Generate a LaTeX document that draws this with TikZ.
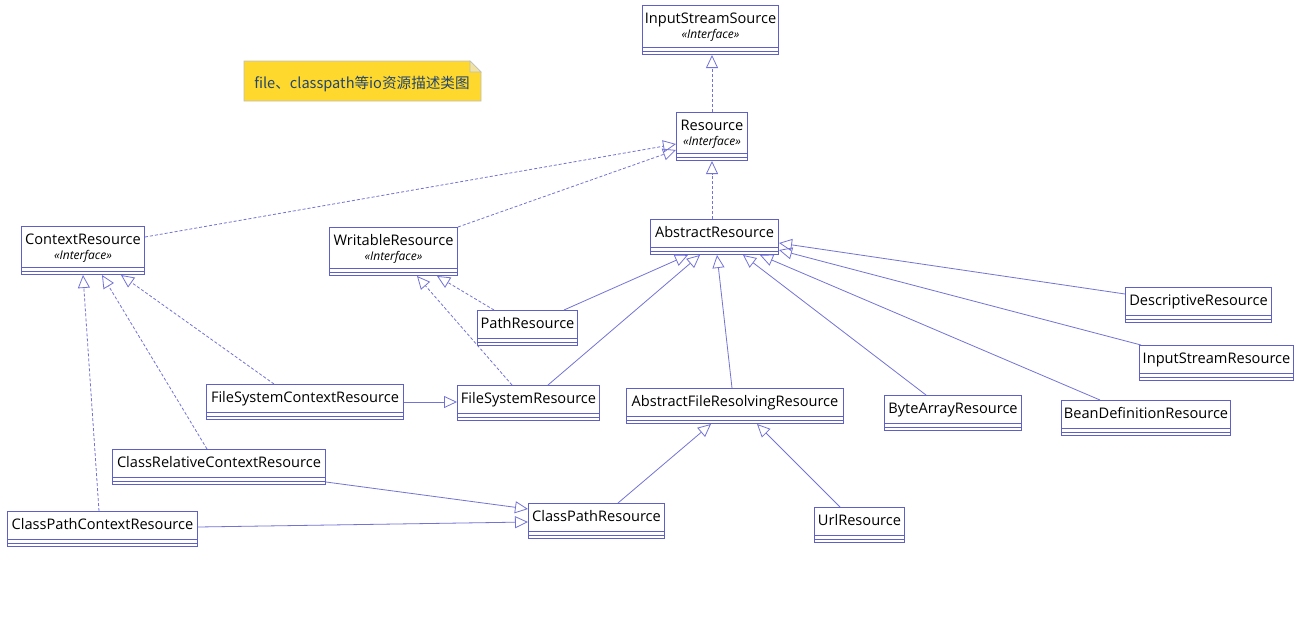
\documentclass[tikz,border=0pt]{standalone}
\usepackage{fontspec}
\setmainfont{Open Sans}
\newfontfamily\cjkfont{Noto Sans CJK SC}
\usetikzlibrary{arrows.meta,calc}
\definecolor{umlborder}{RGB}{95,95,200}
\definecolor{umlline}{RGB}{115,115,215}
\definecolor{notefill}{RGB}{255,216,46}
\definecolor{notefold}{RGB}{240,226,160}
\definecolor{noteborder}{RGB}{190,190,190}
\definecolor{notetext}{RGB}{35,70,110}
\tikzset{
  clsbox/.style={draw=umlborder, line width=1pt, fill=white, inner sep=0pt, rectangle},
  clsrule/.style={draw=umlborder, line width=1pt},
  clsname/.style={anchor=base, inner sep=0pt, font=\fontsize{14.6}{16}\selectfont},
  stereo/.style={anchor=base, inner sep=0pt, font=\fontsize{12}{13}\selectfont\itshape},
  realize/.style={draw=umlline, line width=0.8pt, dash pattern=on 3pt off 2pt, -{Triangle[open,length=13pt,width=12pt]}},
  inherit/.style={draw=umlline, line width=0.8pt, -{Triangle[open,length=13pt,width=12pt]}},
}
% #1 name, #2 x, #3 y, #4 w, #5 h, #6 text
\newcommand\umlclass[6]{%
  \node[clsbox, minimum width=#4pt, minimum height=#5pt, anchor=north west] (#1) at (#2,#3) {};
  \draw[clsrule] ([yshift=8pt]#1.south west) -- ([yshift=8pt]#1.south east);
  \draw[clsrule] ([yshift=4pt]#1.south west) -- ([yshift=4pt]#1.south east);
  \node[clsname] (#1-n) at ($(#1.north)+(0,18.5)$) {#6};
}
\newcommand\umliface[6]{%
  \umlclass{#1}{#2}{#3}{#4}{#5}{#6}%
  \node[stereo] (#1-s) at ($(#1.north)+(0,33)$) {«Interface»};
}
\begin{document}
\begin{tikzpicture}[x=1pt,y=-1pt]
\useasboundingbox (0,0) rectangle (1299,635);
\fill[white] (0,0) rectangle (1299,635);

% note
\filldraw[fill=notefill, draw=noteborder, line width=0.8pt]
  (244,61) -- (470,61) -- (481,72) -- (481,101) -- (244,101) -- cycle;
\filldraw[fill=notefold, draw=noteborder, line width=0.6pt] (470,61) -- (470,72) -- (481,72) -- cycle;
\node[anchor=base, inner sep=0pt, text=notetext, font=\cjkfont\fontsize{14.6}{17}\selectfont] (note) at (362,88) {file、classpath等io资源描述类图};

% classes
\umliface{iss}{642}{5}{136}{49}{InputStreamSource}
\umliface{res}{676}{112}{71}{48}{Resource}
\umlclass{abs}{650}{219}{128}{35}{AbstractResource}
\umliface{ctx}{21}{226}{123}{48}{ContextResource}
\umliface{wr}{329}{227}{128}{48}{WritableResource}
\umlclass{path}{477}{310}{100}{35}{PathResource}
\umlclass{desc}{1125}{287}{146}{35}{DescriptiveResource}
\umlclass{isr}{1139}{345}{154}{35}{InputStreamResource}
\umlclass{fsc}{206}{384}{197}{35}{FileSystemContextResource}
\umlclass{fsr}{457}{385}{142}{35}{FileSystemResource}
\umlclass{afr}{626}{388}{217}{35}{AbstractFileResolvingResource}
\umlclass{bar}{884}{395}{137}{35}{ByteArrayResource}
\umlclass{bdr}{1061}{400}{169}{35}{BeanDefinitionResource}
\umlclass{crc}{112}{449}{213}{35}{ClassRelativeContextResource}
\umlclass{cpc}{7}{511}{190}{35}{ClassPathContextResource}
\umlclass{cpr}{528}{503}{136}{35}{ClassPathResource}
\umlclass{url}{814}{507}{90}{35}{UrlResource}

% realizations (dashed)
\draw[realize] (res.north) -- (res.north |- iss.south);
\draw[realize] ($(abs.north west)+(62,0)$) -- ($(res.south west)+(36,0)$);
\draw[realize] ($(ctx.north east)+(0,11)$) -- ($(res.north west)+(0,32)$);
\draw[realize] (wr.north east) -- ($(res.north west)+(0,38)$);
\draw[realize] ($(path.north west)+(17,0)$) -- ($(wr.south west)+(108,0)$);
\draw[realize] ($(fsr.north west)+(55,0)$) -- ($(wr.south west)+(88,0)$);
\draw[realize] ($(fsc.north west)+(68,0)$) -- ($(ctx.south west)+(100,0)$);
\draw[realize] ($(crc.north west)+(95,0)$) -- ($(ctx.south west)+(81,0)$);
\draw[realize] ($(cpc.north west)+(92,0)$) -- ($(ctx.south west)+(62,0)$);

% generalizations (solid)
\draw[inherit] ($(path.north west)+(87,0)$) -- ($(abs.south west)+(38,0)$);
\draw[inherit] ($(fsr.north west)+(91,0)$) -- ($(abs.south west)+(50,0)$);
\draw[inherit] ($(afr.north west)+(106,0)$) -- ($(abs.south west)+(67,0)$);
\draw[inherit] ($(bar.north west)+(42,0)$) -- ($(abs.south west)+(93,0)$);
\draw[inherit] ($(bdr.north west)+(39,0)$) -- ($(abs.south west)+(110,0)$);
\draw[inherit] ($(isr.north west)+(2,0)$) -- ($(abs.north east)+(0,31)$);
\draw[inherit] ($(desc.north west)+(0,7)$) -- ($(abs.north east)+(0,24)$);
\draw[inherit] ($(fsc.north east)+(0,18)$) -- ($(fsr.north west)+(0,17)$);
\draw[inherit] ($(crc.north east)+(0,33)$) -- ($(cpr.north west)+(0,6)$);
\draw[inherit] ($(cpc.north east)+(0,16)$) -- ($(cpr.north west)+(0,19)$);
\draw[inherit] ($(cpr.north west)+(90,0)$) -- ($(afr.south west)+(85,0)$);
\draw[inherit] ($(url.north west)+(26,0)$) -- ($(afr.south west)+(131,0)$);
\end{tikzpicture}
\end{document}
